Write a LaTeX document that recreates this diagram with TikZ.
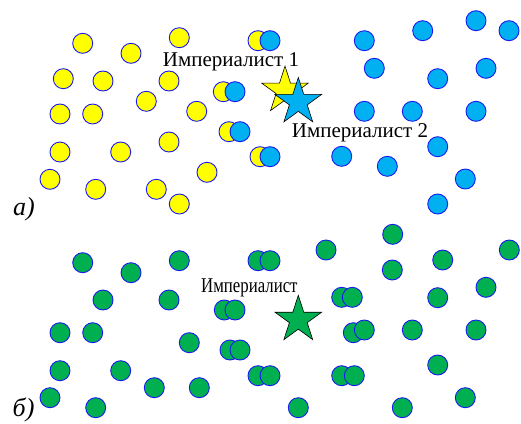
\documentclass[tikz,border=0pt]{standalone}
\usepackage{fontspec}
\setmainfont{Liberation Serif}
\usetikzlibrary{shapes.geometric}
\definecolor{dotyellow}{HTML}{FFFF00}
\definecolor{dotblue}{HTML}{00B0F0}
\definecolor{dotgreen}{HTML}{00B050}
\definecolor{rim}{HTML}{1A1AF0}
\tikzset{
  dot/.style={draw=rim, line width=0.9pt},
  ydot/.style={dot, fill=dotyellow},
  bdot/.style={dot, fill=dotblue},
  gdot/.style={dot, fill=dotgreen},
  empire/.style={star, star points=5, star point ratio=2.618, inner sep=0pt,
    minimum size=49pt, draw=black, line width=0.6pt},
  lbl/.style={inner sep=0pt, anchor=base west, font=\fontsize{21}{25}\selectfont},
  part/.style={inner sep=0pt, anchor=base west, font=\fontsize{26}{30}\selectfont\itshape}
}
\begin{document}
\begin{tikzpicture}[x=1pt, y=-1pt]
\useasboundingbox[fill=white] (0,0) rectangle (521,423);

% ---- panel a): yellow colonies
\foreach \p in {(82.7,43.3),(131,53.3),(179.3,37.7),(258,40.7),
  (63.3,78.7),(103,81),(169,81),(223.3,91.7),(146.3,101.3),
  (60,114),(92.7,114),(196.7,111.3),(229,131.7),(169,142),
  (60,152),(120.7,152),(260,156.7),(50,179.3),(207,172.3),
  (95.7,189.3),(156.3,189.3),(179.3,204)}
  \draw[ydot] \p circle (10);

% ---- panel a): blue colonies
\foreach \p in {(270,40.7),(364.3,40.7),(422.7,30.7),(476,20.7),(509,30.7),
  (374.3,68.3),(437.7,78.7),(486,68.3),(235,91.7),(240,131.7),
  (364.3,111.3),(412.3,111.3),(476,111.3),(437.7,146.7),
  (270,156.7),(341.7,156.3),(387.3,166.3),(465.3,179),(437.7,204)}
  \draw[bdot] \p circle (10);

% ---- panel a): the two imperialists
\node[empire, fill=dotyellow] (imp1) at (285,90.7) {};
\node[empire, fill=dotblue] (imp2) at (298.3,102) {};
\node[lbl] (imp1label) at (162.7,66.7) {Империалист 1};
\node[lbl] (imp2label) at (291.7,137.3) {Империалист 2};
\node[part] (parta) at (13,215) {а)};

% ---- panel б): green colonies after the merge
\foreach \p in {(82.7,262.7),(131,272.7),(179.3,260.7),(258,260.7),(270,260.7),
  (103,300),(169,300),(224.3,310),(235,310),
  (60,332.7),(92.7,332.7),(189.3,342.7),(230,350),(240,350),
  (60,370.7),(120.7,370.7),(258,375.7),(270,375.7),
  (50,397.7),(95.7,407.7),(154.3,387.7),(199.3,387.7),
  (392.7,234.3),(326,250),(509.3,250),(442.7,260),(392.3,270),
  (486,287.3),(341.7,297.3),(352.3,297.3),(437.7,297.7),
  (353.3,332.7),(364.3,330),(412.3,330),(476,330),
  (437.7,365),(341.7,375.7),(354.3,375.7),
  (465.3,397.7),(298.3,407.7),(402.3,407.7)}
  \draw[gdot] \p circle (10);

\node[empire, fill=dotgreen] (imp) at (298.3,319.8) {};
\node[lbl] (implabel) at (201,292.3) {\scalebox{0.8}[1]{Империалист}};
\node[part] (partb) at (12.5,416.7) {б)};
\end{tikzpicture}
\end{document}
